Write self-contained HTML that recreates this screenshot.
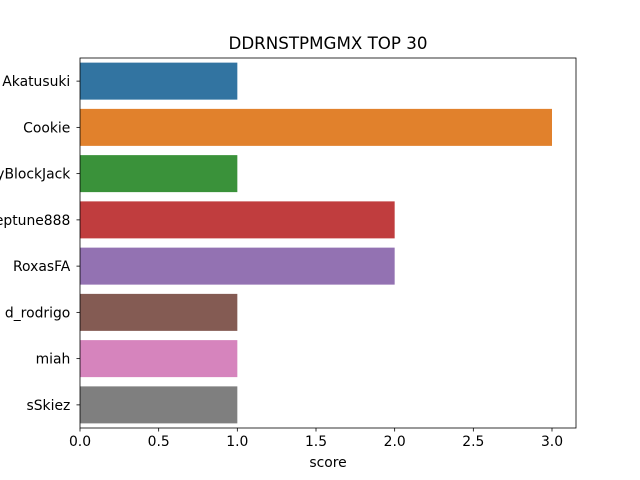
<!DOCTYPE html>
<html><head><meta charset="utf-8"><style>
html,body{margin:0;padding:0;background:#fff;}
svg{display:block;font-family:"DejaVu Sans","Liberation Sans",sans-serif;}
</style></head><body>
<svg id="chart" width="640" height="480" viewBox="0 0 640 480" xmlns="http://www.w3.org/2000/svg">
<rect width="640" height="480" fill="#fff"/>
<text x="328" y="49" font-size="16.7" text-anchor="middle" fill="#000">DDRNSTPMGMX TOP 30</text>
<g id="bars"></g>
<g id="axes"></g>
<text x="328" y="467" font-size="13.9" text-anchor="middle" fill="#000">score</text>
</svg>
<script>
const categories = ["Akatusuki","Cookie","SkyBlockJack","Neptune888","RoxasFA","d_rodrigo","miah","sSkiez"];
const scores = [1,3,1,2,2,1,1,1];
const xTicks = [0,0.5,1,1.5,2,2.5,3];
const xTickLabels = ["0.0","0.5","1.0","1.5","2.0","2.5","3.0"];
const colors = ["#3274a1","#e1812c","#3a923a","#c03d3e","#9372b2","#845b53","#d684bd","#7f7f7f"];

const NS="http://www.w3.org/2000/svg";
const L=80,R=576,T=58,B=428;
const xScale=v=>L+v*(552-L)/3;
const band=(B-T)/categories.length;
const yCenter=i=>T+band*(i+0.5);
function mk(tag,attrs,parent){const e=document.createElementNS(NS,tag);for(const k in attrs)e.setAttribute(k,attrs[k]);parent.appendChild(e);return e;}
const bars=document.getElementById('bars'),axes=document.getElementById('axes');
categories.forEach((c,i)=>{
  const h=band*0.8;
  const r=mk('rect',{x:xScale(0),y:yCenter(i)-h/2,width:xScale(scores[i])-xScale(0),height:h,fill:colors[i%colors.length]},bars);
  
  
  const tk=mk('line',{x1:L,x2:L-3.5,y1:yCenter(i),y2:yCenter(i),stroke:'#000','stroke-width':0.8},axes);
  
  
  const t=mk('text',{x:L-9.7,y:yCenter(i)+5,'font-size':13.9,'text-anchor':'end',fill:'#000'},axes);
  t.textContent=c;
  
  
});
xTicks.forEach((v,i)=>{
  const tk=mk('line',{x1:xScale(v),x2:xScale(v),y1:B,y2:B+3.5,stroke:'#000','stroke-width':0.8},axes);
  
  
  const t=mk('text',{x:xScale(v),y:B+18,'font-size':13.9,'text-anchor':'middle',fill:'#000'},axes);
  t.textContent=xTickLabels[i];
  
  
});
const frame=mk('rect',{x:L,y:T,width:R-L,height:B-T,fill:'none',stroke:'#000','stroke-width':0.8},axes);


</script>
</body></html>
